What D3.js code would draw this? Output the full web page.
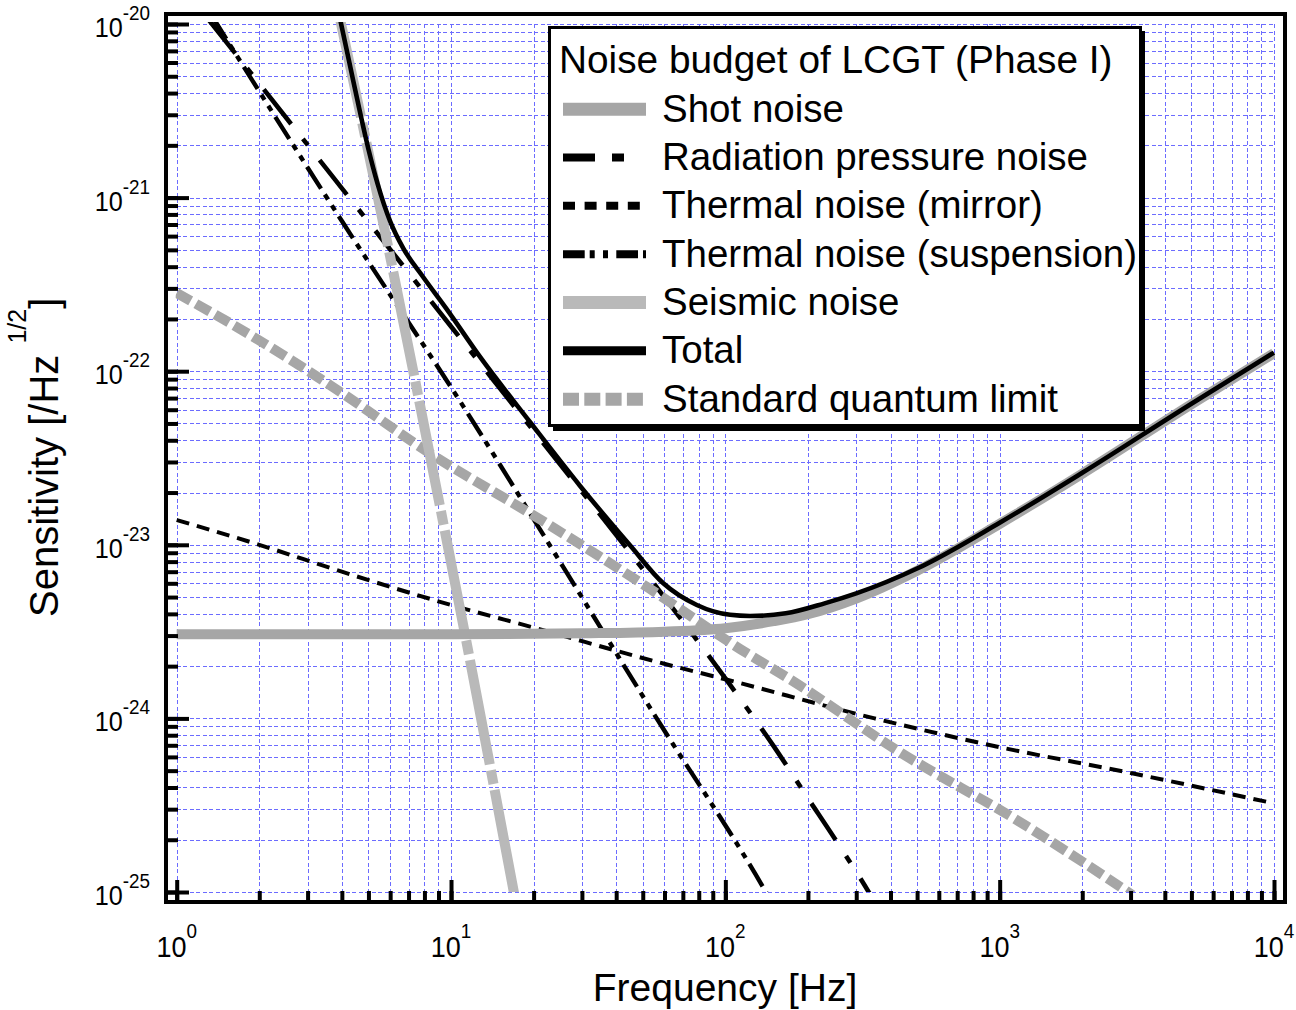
<!DOCTYPE html>
<html><head><meta charset="utf-8">
<script src="https://cdn.jsdelivr.net/npm/d3@7"></script>
<style>
body{margin:0;background:#fff}
text{font-family:"Liberation Sans",Arial,Helvetica,sans-serif;fill:#000}
</style>
</head><body>
<svg id="c" width="1296" height="1010"></svg>
<script>
// ---------------- data ----------------
const xTickValues = [1, 10, 100, 1000, 10000];
const xTickExp = ["0", "1", "2", "3", "4"];
const yTickValues = [1e-20, 1e-21, 1e-22, 1e-23, 1e-24, 1e-25];
const yTickExp = ["-20", "-21", "-22", "-23", "-24", "-25"];

const seriesNames = ["Shot noise", "Radiation pressure noise", "Thermal noise (mirror)",
  "Thermal noise (suspension)", "Seismic noise", "Total", "Standard quantum limit"];
const legendTitle = "Noise budget of LCGT (Phase I)";
const xTitle = "Frequency [Hz]";

const shotF = [1, 10, 30, 60, 100, 150, 200, 300, 500, 1000, 2000, 5000, 10000];
const shotS = [3.05e-24, 3.05e-24, 3.09e-24, 3.16e-24, 3.31e-24, 3.63e-24, 3.98e-24, 4.9e-24, 7.08e-24, 1.32e-23, 2.57e-23, 6.46e-23, 1.27e-22];

const radF = [1.3, 2, 5, 10, 20, 50, 100, 150, 200, 250, 333, 345];
const radS = [1.07e-20, 4.53e-21, 7.24e-22, 1.81e-22, 4.53e-23, 7.24e-24, 1.70e-24, 6.92e-25, 3.47e-25, 2.04e-25, 1.0e-25, 9.1e-26];

const mirF = [1, 2, 4, 10, 20.5, 59.4, 100, 350, 982, 3035, 10000];
const mirS = [1.39e-23, 1.0e-23, 7.0e-24, 4.5e-24, 3.3e-24, 2.07e-24, 1.68e-24, 1.0e-24, 6.87e-25, 4.83e-25, 3.24e-25];

const susF = [1.35, 2.13, 4.05, 11.1, 25.6, 54.7, 139, 146];
const susS = [1.1e-20, 3.49e-21, 7.11e-22, 6.25e-23, 7.48e-24, 1.07e-24, 1.03e-25, 9.0e-26];

const seiF = [3.9, 5.83, 9.12, 11.1, 16.9, 17.2];
const seiS = [1.15e-20, 5.7e-22, 1.66e-23, 3.39e-24, 1.02e-25, 8.8e-26];

const totF = [3.95, 4.3, 4.6, 5.0, 5.4, 6.0, 6.7, 7.9, 9.6, 12.8, 19.4, 29.5, 45, 59.4, 78.7, 104, 123, 166, 230, 300, 500, 1000, 2000, 5000, 10000];
const totS = [1.05e-20, 5.6e-21, 3.4e-21, 1.9e-21, 1.2e-21, 7.3e-22, 5.1e-22, 3.5e-22, 2.3e-22, 1.2e-22, 5.1e-23, 2.19e-23, 9.9e-24, 6.0e-24, 4.5e-24, 3.95e-24, 3.89e-24, 4.03e-24, 4.6e-24, 5.25e-24, 7.3e-24, 1.34e-23, 2.6e-23, 6.5e-23, 1.28e-22];

const sqlF = [1, 1.85, 3.62, 8.37, 22.3, 51.6, 120, 166, 439, 1153, 2754, 3050];
const sqlS = [2.82e-22, 1.62e-22, 8.32e-23, 3.37e-23, 1.33e-23, 5.74e-24, 2.37e-24, 1.74e-24, 6.3e-25, 2.6e-25, 1.07e-25, 9.6e-26];

// ---------------- layout ----------------
const svg = d3.select("#c");
const L = 176.7, R = 1274, T = 24, B = 892;
const x = d3.scaleLog().domain([1, 1e4]).range([L, R]);
const y = d3.scaleLog().domain([1e-25, 1e-20]).range([B, T]);
const px = v => Math.round(v) + 0.5;

// minor/major positions
const xMinor = [], yMinor = [];
for (let d = 0; d < 4; d++) for (let m = 1; m <= 9; m++) xMinor.push(m * Math.pow(10, d));
xMinor.push(1e4);
for (let e = -25; e < -20; e++) for (let m = 1; m <= 9; m++) yMinor.push(+(m + "e" + e));
yMinor.push(1e-20);

// grid
const grid = svg.append("g").attr("stroke", "#6c6cff").attr("stroke-width", 1)
  .attr("stroke-dasharray", "4,2.5").attr("fill", "none").attr("shape-rendering", "crispEdges");
grid.selectAll("line.v").data(xMinor).join("line").attr("class", "v")
  .attr("x1", d => px(x(d))).attr("x2", d => px(x(d))).attr("y1", T).attr("y2", B);
grid.selectAll("line.h").data(yMinor).join("line").attr("class", "h")
  .attr("y1", d => px(y(d))).attr("y2", d => px(y(d))).attr("x1", L).attr("x2", R);

// curves
svg.append("defs").append("clipPath").attr("id", "clip")
  .append("rect").attr("x", L - 1).attr("y", T - 2).attr("width", R - L + 2).attr("height", B - T + 2);
const plot = svg.append("g").attr("clip-path", "url(#clip)");
const line = d3.line().x(d => x(d[0])).y(d => y(d[1])).curve(d3.curveMonotoneX);
const zip = (a, b) => a.map((v, i) => [v, b[i]]);

const styles = [
  {f: shotF, s: shotS, color: "#a6a6a6", w: 10, dash: null, lw: 13, ldash: null},
  {f: radF, s: radS, color: "#000", w: 4.6, dash: "44,19,8,19", lw: 8, ldash: "32,17,12,30"},
  {f: mirF, s: mirS, color: "#000", w: 4, dash: "13,8", lw: 8, ldash: "12,9.6"},
  {f: susF, s: susS, color: "#000", w: 4.4, dash: "26,7,6,7,6,7", lw: 8, ldash: "21.7,5,5,8.3,5,8.3"},
  {f: seiF, s: seiS, color: "#b9b9b9", w: 10, dash: "106,6,14,6", lw: 13, ldash: null},
  {f: totF, s: totS, color: "#000", w: 4.6, dash: null, lw: 9, ldash: null},
  {f: sqlF, s: sqlS, color: "#a6a6a6", w: 10, dash: "16,6", lw: 13, ldash: "16,5.3"}
];
const drawOrder = [2, 1, 3, 6, 4, 0, 5];
drawOrder.forEach(i => {
  const st = styles[i];
  plot.append("path").datum(zip(st.f, st.s)).attr("d", line)
    .attr("fill", "none").attr("stroke", st.color).attr("stroke-width", st.w)
    .attr("stroke-dasharray", st.dash).attr("stroke-linejoin", "round");
});

// ticks (axes drawn inward from the frame)
const tickStyle = g => { g.select(".domain").remove(); g.selectAll("text").remove();
  g.selectAll("line").style("stroke", "#000").style("stroke-width", "4px"); };
svg.append("g").attr("transform", "translate(167,0)")
  .call(d3.axisRight(y).tickValues(yMinor).tickSize(11).tickFormat("")).call(tickStyle);
svg.append("g").attr("transform", "translate(167,0)")
  .call(d3.axisRight(y).tickValues(yTickValues).tickSize(22).tickFormat("")).call(tickStyle);
svg.append("g").attr("transform", "translate(0,900)")
  .call(d3.axisTop(x).tickValues(xMinor).tickSize(9).tickFormat("")).call(tickStyle);
svg.append("g").attr("transform", "translate(0,900)")
  .call(d3.axisTop(x).tickValues(xTickValues).tickSize(20).tickFormat("")).call(tickStyle);

// frame
svg.append("rect").attr("x", 166).attr("y", 14).attr("width", 1119).attr("height", 888)
  .attr("fill", "none").attr("stroke", "#000").attr("stroke-width", 4);

// tick labels
yTickValues.forEach((v, i) => {
  const t = svg.append("text").attr("text-anchor", "end")
    .attr("transform", `translate(150,${y(v) + 13}) scale(0.9,1)`).attr("font-size", 28);
  t.append("tspan").text("10");
  t.append("tspan").attr("dy", -17).attr("font-size", 21).text(yTickExp[i]);
});
xTickValues.forEach((v, i) => {
  const t = svg.append("text").attr("text-anchor", "middle")
    .attr("transform", `translate(${x(v)},957) scale(0.9,1)`).attr("font-size", 30);
  t.append("tspan").text("10");
  t.append("tspan").attr("dy", -19).attr("font-size", 21).text(xTickExp[i]);
});

// axis titles
svg.append("text").attr("x", 725).attr("y", 1001).attr("text-anchor", "middle")
  .attr("font-size", 39).text(xTitle);
const yt = svg.append("text").attr("transform", "translate(58,617) rotate(-90)")
  .attr("font-size", 40);
yt.append("tspan").text("Sensitivity [/Hz ");
yt.append("tspan").attr("dy", -32).attr("font-size", 25).text("1/2");
yt.append("tspan").attr("dy", 32).text("]");

// legend
const lg = svg.append("g");
lg.append("rect").attr("x", 553).attr("y", 31).attr("width", 592).attr("height", 400).attr("fill", "#000");
lg.append("rect").attr("x", 549.5).attr("y", 27.5).attr("width", 591).attr("height", 398)
  .attr("fill", "#fff").attr("stroke", "#000").attr("stroke-width", 3);
lg.append("text").attr("x", 559).attr("y", 73.3).attr("font-size", 38.8).text(legendTitle);
seriesNames.forEach((n, i) => {
  const st = styles[i];
  const by = 121.7 + i * 48.33;
  lg.append("line").attr("x1", 563).attr("x2", 646).attr("y1", by - 12.5).attr("y2", by - 12.5)
    .attr("stroke", st.color).attr("stroke-width", st.lw).attr("stroke-dasharray", st.ldash);
  lg.append("text").attr("x", 662).attr("y", by).attr("font-size", 38.5).text(n);
});
</script>
</body></html>
